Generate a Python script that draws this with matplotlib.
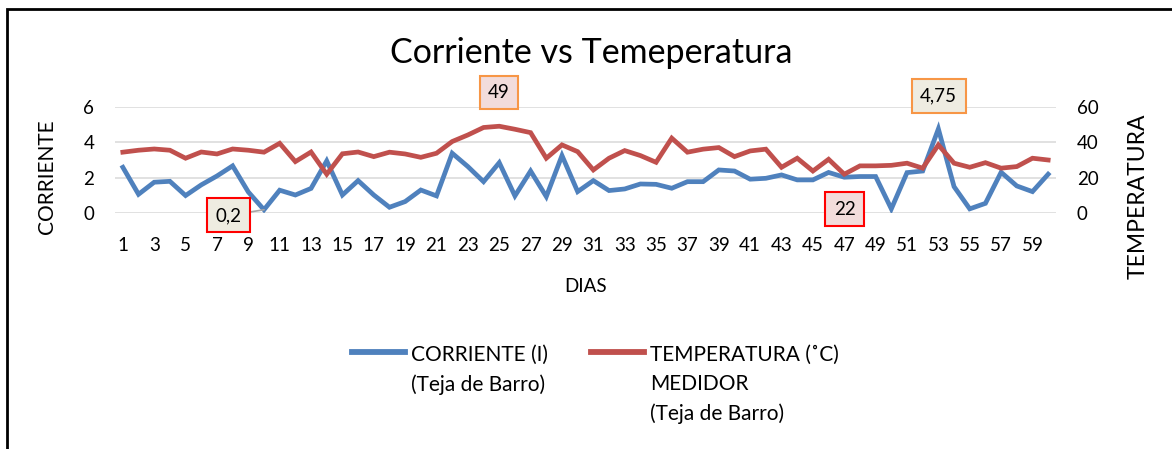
import matplotlib
matplotlib.use("Agg")
import matplotlib.pyplot as plt
from matplotlib.patches import Rectangle

plt.rcParams['font.family'] = ['Lato', 'DejaVu Sans']

dias = list(range(1, 61))
corriente = [2.59, 1.07, 1.75, 1.8, 1.0, 1.6, 2.1, 2.67, 1.2, 0.2,
             1.3, 1.03, 1.4, 2.95, 1.03, 1.84, 1.03, 0.34, 0.66, 1.31,
             0.98, 3.38, 2.63, 1.78, 2.85, 0.98, 2.38, 0.94, 3.25, 1.22,
             1.84, 1.28, 1.37, 1.65, 1.63, 1.41, 1.78, 1.78, 2.44, 2.38,
             1.92, 1.97, 2.16, 1.88, 1.88, 2.3, 2.03, 2.07, 2.07, 0.25,
             2.29, 2.38, 4.75, 1.5, 0.25, 0.56, 2.31, 1.54, 1.22, 2.2]
temperatura = [34.4, 35.5, 36.2, 35.5, 31, 34.5, 33.4, 36.2, 35.5, 34.4,
               39.4, 29.1, 34.5, 22, 33.5, 34.5, 31.9, 34.4, 33.4, 31.5,
               33.8, 40.4, 44.1, 48.3, 49, 47.3, 45.4, 31, 38.5, 34.7,
               24.4, 31, 35.3, 32.5, 28.7, 42.3, 34.4, 36.1, 37, 31.9,
               35.1, 36.1, 25.9, 31, 23.8, 30.4, 22, 26.7, 26.7, 27,
               28.2, 25.4, 38.5, 28.2, 25.9, 28.5, 25.4, 26.3, 31, 30]
xtick_labels = [str(d) for d in dias[::2]]
yticks_left = [0, 2, 4, 6]
yticks_right = [0, 20, 40, 60]

title = "Corriente vs Temeperatura"
label_c = "CORRIENTE (I)\n(Teja de Barro)"
label_t = "TEMPERATURA (\u02daC)\nMEDIDOR\n(Teja de Barro)"

blue = "#4F81BD"
red = "#C0504D"
grid_c = "#D9D9D9"
fs = 13.5
lfs = 15

W, H = 1172, 449
fig = plt.figure(figsize=(W / 100, H / 100), dpi=100)
L, R, T, B = 115, 1056, 106.7, 213.3
ax = fig.add_axes([L / W, 1 - B / H, (R - L) / W, (B - T) / H])
ax2 = ax.twinx()

ax.set_xlim(0.5, 60.5)
ax.set_ylim(0, 6)
ax2.set_ylim(0, 60)
ax.set_yticks(yticks_left)
ax2.set_yticks(yticks_right)
ax.set_xticks(dias[::2])
ax.set_xticklabels(xtick_labels)
for a in (ax, ax2):
    for s in a.spines.values():
        s.set_visible(False)
    a.tick_params(length=0, labelsize=fs)
ax.tick_params(axis='x', pad=17)
ax.tick_params(axis='y', pad=15)
ax2.tick_params(axis='y', pad=15)
ax.yaxis.grid(True, color=grid_c, lw=1.1)
ax.set_axisbelow(True)

l1, = ax.plot(dias, corriente, color=blue, lw=3.4, solid_joinstyle='miter', zorder=3)
l2, = ax2.plot(dias, temperatura, color=red, lw=3.4, solid_joinstyle='miter', zorder=3)

ax.set_ylabel("CORRIENTE", fontsize=15)
ax.yaxis.set_label_coords(-0.062, 0.345)
ax2.set_ylabel("TEMPERATURA", fontsize=16.5)
ax2.yaxis.set_label_coords(1.0765, 0.156)
ax.set_xlabel("DIAS", fontsize=fs)
ax.xaxis.set_label_coords(0.5, -0.61)

fig.text(591 / W, 1 - 53 / H, title, ha='center', va='center', fontsize=24.5)

def box(axis, text, xy, xytext, ec, fc, leader=False):
    ap = dict(arrowstyle='-', color='#A6A6A6', lw=1.2, shrinkA=0, shrinkB=0) if leader else None
    axis.annotate(text, xy=xy, xytext=xytext, ha='center', va='center', fontsize=fs,
                  bbox=dict(boxstyle='square,pad=0.45', fc=fc, ec=ec, lw=1.5),
                  arrowprops=ap, zorder=5, annotation_clip=False)

box(ax, "0,2", (10, corriente[9]), (7.74, -0.12), "#FF0000", "#EEECE1", leader=True)
box(ax2, "49", (25, temperatura[24]), (24.99, 68.0), "#F79646", "#F2DCDB")
box(ax, "4,75", (53, corriente[52]), (53.02, 6.61), "#F79646", "#EEECE1")
box(ax2, "22", (47, temperatura[46]), (47.02, 2.4), "#FF0000", "#F2DCDB")

leg = fig.legend([l1, l2], [label_c, label_t], ncol=2, frameon=False, fontsize=lfs,
                 loc='upper left', bbox_to_anchor=(352 / W, 1 - 345 / H),
                 handlelength=2.55, handletextpad=0.29, columnspacing=2.05,
                 borderaxespad=0, borderpad=0)
for t in leg.get_texts():
    t.set_linespacing(1.55)
for h in leg.legend_handles:
    h.set_linewidth(4.2)
try:
    leg._legend_handle_box.align = "top"
    for col in leg._legend_handle_box.get_children():
        col.align = "left"
        for row in col.get_children():
            row.align = "top"
except Exception:
    pass

fig.add_artist(Rectangle((7 / W, -0.2), 1.2, 1.2 - 8.5 / H, fill=False,
                         ec='black', lw=2, transform=fig.transFigure, clip_on=False))

fig.savefig("out.png", dpi=100, facecolor='white')
